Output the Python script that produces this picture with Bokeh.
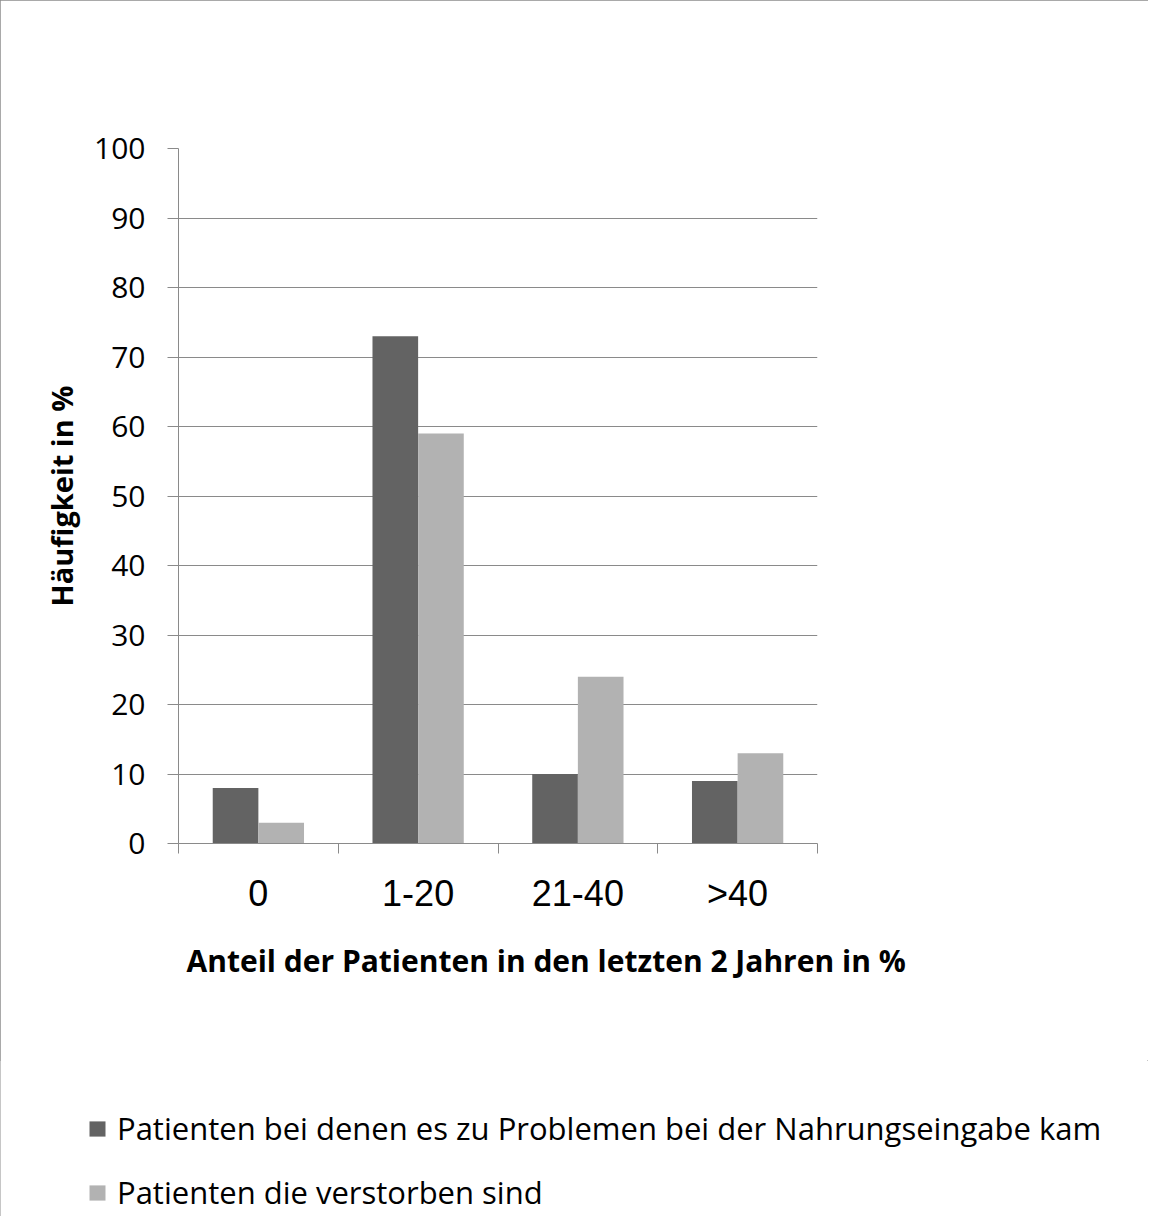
from bokeh.plotting import figure
from bokeh.models import (FixedTicker, Legend, LegendItem, Title, ColumnDataSource, Range1d)
from bokeh.layouts import column
from bokeh.embed import file_html
from bokeh.resources import INLINE
from bokeh.transform import dodge

categories = ["0", "1-20", "21-40", ">40"]
series_names = ["Patienten bei denen es zu Problemen bei der Nahrungseingabe kam",
                "Patienten die verstorben sind"]
problems = [8, 73, 10, 9]
deceased = [3, 59, 24, 13]
y_ticks = [0, 10, 20, 30, 40, 50, 60, 70, 80, 90, 100]

DARK = "#636363"
LIGHT = "#b2b2b2"
GRID = "#8a8a8a"

centers = [i + 0.5 for i in range(len(categories))]
src = ColumnDataSource(dict(x=centers, problems=problems, deceased=deceased))

W = 1148
H1 = 1060
H2 = 1216 - H1

p = figure(width=W, height=H1, output_backend="svg", toolbar_location=None,
           x_range=Range1d(0, len(categories)), y_range=Range1d(0, 100),
           min_border_left=178, min_border_right=W - 178 - 639, min_border_top=148,
           min_border_bottom=H1 - 148 - 695)
p.frame_align = False
p.outline_line_color = None
p.background_fill_color = "white"
p.border_fill_color = "white"

bw = 1 / 3.5
r1 = p.vbar(x=dodge("x", -bw / 2, range=p.x_range), top="problems", width=bw, bottom=0,
            source=src, fill_color=DARK, line_color=None)
r2 = p.vbar(x=dodge("x", bw / 2, range=p.x_range), top="deceased", width=bw, bottom=0,
            source=src, fill_color=LIGHT, line_color=None)

# y axis
yax = p.yaxis[0]
yax.ticker = FixedTicker(ticks=y_ticks)
yax.axis_line_color = GRID
yax.major_tick_line_color = GRID
yax.major_tick_out = 11
yax.major_tick_in = 0
yax.minor_tick_line_color = None
yax.major_label_text_font = "Open Sans"
yax.major_label_text_font_size = "30px"
yax.major_label_text_color = "black"
yax.major_label_standoff = 22
yax.axis_label = "Häufigkeit in %"
yax.axis_label_text_font = "Open Sans"
yax.axis_label_text_font_style = "bold"
yax.axis_label_text_font_size = "29px"
yax.axis_label_text_color = "black"
yax.axis_label_standoff = 10

# x axis: labels at centers, ticks at category boundaries
xax = p.xaxis[0]
xax.ticker = FixedTicker(ticks=centers, minor_ticks=list(range(len(categories) + 1)))
xax.major_label_overrides = {c: lab for c, lab in zip(centers, categories)}
xax.axis_line_color = GRID
xax.major_tick_line_color = None
xax.major_tick_out = 0
xax.major_tick_in = 0
xax.minor_tick_line_color = GRID
xax.minor_tick_out = 10
xax.minor_tick_in = 0
xax.major_label_text_font = "Liberation Sans"
xax.major_label_text_font_size = "36px"
xax.major_label_text_color = "black"
xax.major_label_standoff = 19

p.xgrid.grid_line_color = None
p.ygrid.ticker = FixedTicker(ticks=y_ticks)
p.ygrid.grid_line_color = GRID

xt = Title(text="Anteil der Patienten in den letzten 2 Jahren in %", align="left", offset=8,
           text_font="Open Sans", text_font_style="bold", text_font_size="30px",
           text_color="black", standoff=43)
p.add_layout(xt, "below")

# legend figure (its own bars lie far outside its visible y range; only the legend shows)
p2 = figure(width=W, height=H2, output_backend="svg", toolbar_location=None,
            x_range=Range1d(0, len(categories)), y_range=Range1d(1000, 1001),
            x_axis_type=None, y_axis_type=None, min_border=0)
p2.frame_align = False
p2.outline_line_color = None
p2.grid.visible = False
p2.background_fill_color = "white"
p2.border_fill_color = "white"
l1 = p2.vbar(x=dodge("x", -bw / 2, range=p2.x_range), top="problems", width=bw, bottom=0,
             source=src, fill_color=DARK, line_color=None)
l2 = p2.vbar(x=dodge("x", bw / 2, range=p2.x_range), top="deceased", width=bw, bottom=0,
             source=src, fill_color=LIGHT, line_color=None)

legend = Legend(items=[LegendItem(label=series_names[0], renderers=[l1]),
                       LegendItem(label=series_names[1], renderers=[l2])],
                location=(87, 3), orientation="vertical",
                label_text_font="Open Sans", label_text_font_size="31px", label_text_color="black",
                glyph_width=20, glyph_height=19, label_standoff=10, spacing=22,
                padding=0, margin=0, border_line_color=None, background_fill_alpha=0)
p2.add_layout(legend, "center")

layout = column(p, p2, spacing=0)
layout.styles = {"outline": "1px solid #8c8c8c", "outline-offset": "-1px"}

open("out.html", "w").write(file_html(layout, INLINE))
